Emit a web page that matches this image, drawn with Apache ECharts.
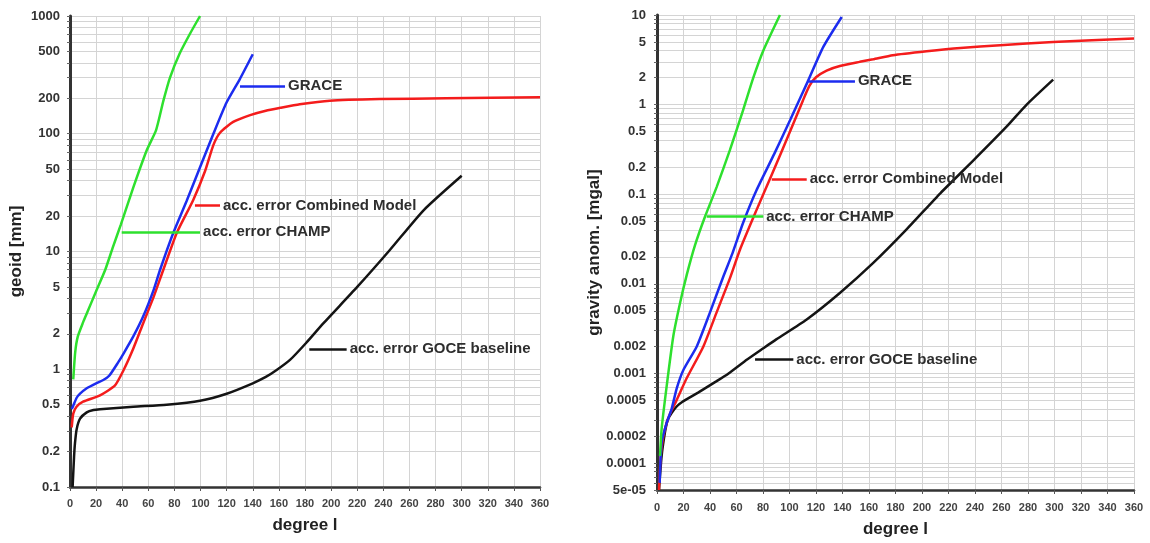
<!DOCTYPE html>
<html>
<head>
<meta charset="utf-8">
<script src="https://cdn.jsdelivr.net/npm/echarts@6/dist/echarts.min.js"></script>
<style>
  html, body { margin: 0; padding: 0; background: #fff; }
  #chart { width: 1150px; height: 543px; }
</style>
</head>
<body>
<div id="chart"></div>
<script>
// spherical harmonic degree l, x axis of both panels
const degreeTicks = [0, 20, 40, 60, 80, 100, 120, 140, 160, 180, 200, 220, 240, 260, 280, 300, 320, 340, 360];

// left panel: geoid error [mm]
const geoidTicks = [0.1, 0.2, 0.5, 1, 2, 5, 10, 20, 50, 100, 200, 500, 1000];
const geoidTickLabels = ["0.1", "0.2", "0.5", "1", "2", "5", "10", "20", "50", "100", "200", "500", "1000"];

const goceGeoid = [[2, 0.1], [3.1, 0.18], [3.8, 0.235], [5.1, 0.31], [7.7, 0.38], [12.8, 0.43], [18, 0.45], [23, 0.457],
  [48.5, 0.48], [74, 0.5], [99.6, 0.54], [120, 0.62], [140, 0.76], [150, 0.86], [158, 0.98], [168.5, 1.2],
  [181, 1.68], [194, 2.45], [220, 5.0], [245, 10.3], [271, 22.5], [300, 44]];
const combinedGeoid = [[1.3, 0.32], [2.5, 0.42], [5, 0.48], [10, 0.53], [23, 0.6], [34.5, 0.73], [41, 0.98],
  [48.5, 1.5], [56, 2.45], [64, 4.1], [71.5, 7], [81.7, 14.3], [94.4, 27.4], [103.4, 48], [109.8, 80],
  [114.9, 102], [125, 126], [138, 144], [150, 157], [161, 166], [176, 178], [199, 191], [237, 197],
  [288, 200], [360, 204]];
const graceGeoid = [[1.3, 0.46], [2.5, 0.49], [5, 0.57], [7.7, 0.62], [12.8, 0.69], [20, 0.76], [25.5, 0.81],
  [30, 0.88], [37, 1.15], [41, 1.36], [48.5, 1.9], [56, 2.8], [64, 4.7], [69, 7], [79, 14.3], [89.4, 27],
  [99.6, 52], [110, 101], [120, 185], [130, 290], [140, 473]];
const champGeoid = [[2.5, 0.82], [4, 1.4], [6, 1.9], [10, 2.5], [13, 3.0], [20, 4.6], [27, 7], [33, 11],
  [39, 17], [48.5, 35], [58.7, 72], [66, 108], [71.5, 190], [76.6, 300], [84, 480], [92, 710], [99.6, 1000]];

// right panel: gravity anomaly error [mgal]
const gravityTicks = [5e-5, 0.0001, 0.0002, 0.0005, 0.001, 0.002, 0.005, 0.01, 0.02, 0.05, 0.1, 0.2, 0.5, 1, 2, 5, 10];
const gravityTickLabels = ["5e-05", "0.0001", "0.0002", "0.0005", "0.001", "0.002", "0.005", "0.01", "0.02",
  "0.05", "0.1", "0.2", "0.5", "1", "2", "5", "10"];

const goceGravity = [[1.5, 5e-5], [3.5, 0.00012], [6, 0.00022], [8, 0.0003], [11, 0.00036], [15, 0.00043],
  [19, 0.00048], [31, 0.00061], [45, 0.00082], [54, 0.001], [68, 0.00143], [80, 0.0019], [90, 0.0024],
  [113, 0.004], [138, 0.0079], [163, 0.017], [188, 0.04], [214, 0.103], [239, 0.24], [264, 0.57],
  [279, 1.0], [299, 1.9]];
const combinedGravity = [[1.5, 5e-5], [2.8, 0.00012], [4.8, 0.0002], [7.3, 0.00028], [10, 0.00036],
  [15, 0.00051], [22, 0.00086], [35, 0.002], [45, 0.0048], [55, 0.0115], [62.6, 0.024], [75, 0.066],
  [86.6, 0.165], [100.4, 0.5], [110, 1.1], [115, 1.62], [120, 2.02], [128, 2.4], [138, 2.7], [153, 3.0],
  [163, 3.2], [178, 3.56], [203.5, 3.94], [229, 4.29], [259, 4.6], [299, 5.0], [360, 5.45]];
const graceGravity = [[2, 6e-5], [3.5, 0.00017], [7.3, 0.00028], [11, 0.0004], [15, 0.00069], [20, 0.0011],
  [30, 0.002], [40, 0.0048], [50, 0.012], [57, 0.022], [65, 0.048], [75, 0.11], [88.4, 0.28], [100.4, 0.67],
  [114, 1.84], [125.5, 4.4], [139.4, 9.5]];
const champGravity = [[2.3, 0.00012], [3.5, 0.00024], [7.3, 0.00072], [12.3, 0.0026], [17.4, 0.0061],
  [22.4, 0.0125], [28.7, 0.027], [36.2, 0.056], [45, 0.12], [55, 0.31], [65, 0.87], [72.7, 2.0],
  [80.2, 4.0], [92.8, 10]];

// callout lines: [degree from, degree to, value]
const geoidNotes = {
  goce: [183.3, 211.9, 1.49],
  combined: [95.7, 114.9, 24.5],
  grace: [130.2, 164.7, 254],
  champ: [39.6, 99.6, 14.7]
};
const gravityNotes = {
  goce: [74, 102.9, 0.00143],
  combined: [86.6, 113, 0.148],
  grace: [114.2, 149.4, 1.84],
  champ: [37.5, 80.2, 0.0563]
};

const FONT = "'Liberation Sans', Arial, sans-serif";
const COLORS = { goce: "#141414", combined: "#f41c1c", grace: "#1c2cef", champ: "#2ee02e" };
const TEXTS = {
  goce: "acc. error GOCE baseline",
  combined: "acc. error Combined Model",
  grace: "GRACE",
  champ: "acc. error CHAMP"
};

// minor grid: 1..9 per decade between lo and hi
function decadeGrid(lo, hi) {
  const out = [];
  for (let e = Math.floor(Math.log10(lo)); e <= Math.ceil(Math.log10(hi)); e++) {
    for (let k = 1; k <= 9; k++) {
      const v = Number((k * Math.pow(10, e)).toPrecision(6));
      if (v >= lo && v <= hi) out.push(v);
    }
  }
  return out;
}

function tickFormatter(ticks, labels) {
  return (v) => {
    let best = 0;
    for (let i = 1; i < ticks.length; i++) {
      if (Math.abs(Math.log10(v / ticks[i])) < Math.abs(Math.log10(v / ticks[best]))) best = i;
    }
    return labels[best];
  };
}

function xAxis(gridIndex, nameGap, labelMargin) {
  return {
    type: "value",
    gridIndex,
    min: degreeTicks[0],
    max: degreeTicks[degreeTicks.length - 1],
    interval: degreeTicks[1] - degreeTicks[0],
    name: "degree l",
    nameLocation: "middle",
    nameGap,
    nameTextStyle: { fontSize: 17, fontWeight: "bold", color: "#222", fontFamily: FONT },
    axisLine: { onZero: false, lineStyle: { color: "#333", width: 2.5 } },
    axisTick: { show: true, length: 4, lineStyle: { color: "#555" } },
    axisLabel: { fontSize: 11, fontWeight: "bold", color: "#444", margin: labelMargin, fontFamily: FONT },
    splitLine: { show: true, lineStyle: { color: "#d4d4d4", width: 1 } }
  };
}

function yAxis(gridIndex, name, ticks, labels, nameGap, labelMargin) {
  const lo = ticks[0], hi = ticks[ticks.length - 1];
  return {
    type: "log",
    logBase: 10,
    gridIndex,
    min: lo,
    max: hi,
    name,
    nameLocation: "middle",
    nameGap,
    nameTextStyle: { fontSize: 17, fontWeight: "bold", color: "#222", fontFamily: FONT },
    axisLine: { show: true, lineStyle: { color: "#333", width: 3 } },
    axisTick: { show: true, length: 3, customValues: decadeGrid(lo, hi), lineStyle: { color: "#666" } },
    axisLabel: {
      customValues: ticks,
      formatter: tickFormatter(ticks, labels),
      fontSize: 13, fontWeight: "bold", color: "#333", margin: labelMargin, fontFamily: FONT
    },
    splitLine: { show: true, lineStyle: { color: "#d4d4d4", width: 1 } },
    minorTick: { show: false },
    minorSplitLine: { show: false }
  };
}

function curve(key, data, axisIndex, note) {
  const color = COLORS[key];
  return {
    type: "line",
    name: TEXTS[key],
    data,
    xAxisIndex: axisIndex,
    yAxisIndex: axisIndex,
    symbol: "none",
    showSymbol: false,
    smooth: 0.2,
    silent: true,
    lineStyle: { color, width: 2.5 },
    itemStyle: { color },
    markLine: {
      symbol: "none",
      silent: true,
      animation: false,
      lineStyle: { color, width: 2.5, type: "solid" },
      label: {
        show: true, position: "end", distance: 3, formatter: TEXTS[key],
        color: "#2e2e2e", fontSize: 15, fontWeight: "bold", fontFamily: FONT
      },
      data: [[{ coord: [note[0], note[2]] }, { coord: [note[1], note[2]] }]]
    }
  };
}

const chart = echarts.init(document.getElementById("chart"), null, { renderer: "canvas" });

chart.setOption({
  animation: false,
  backgroundColor: "#fff",
  textStyle: { fontFamily: FONT },
  grid: [
    { left: 70, right: 610, top: 16, bottom: 56 },
    { left: 657, right: 16, top: 15, bottom: 52 }
  ],
  xAxis: [xAxis(0, 30, 11), xAxis(1, 31, 12)],
  yAxis: [
    yAxis(0, "geoid [mm]", geoidTicks, geoidTickLabels, 45, 10),
    yAxis(1, "gravity anom. [mgal]", gravityTicks, gravityTickLabels, 46, 11)
  ],
  series: [
    curve("goce", goceGeoid, 0, geoidNotes.goce),
    curve("combined", combinedGeoid, 0, geoidNotes.combined),
    curve("grace", graceGeoid, 0, geoidNotes.grace),
    curve("champ", champGeoid, 0, geoidNotes.champ),
    curve("goce", goceGravity, 1, gravityNotes.goce),
    curve("combined", combinedGravity, 1, gravityNotes.combined),
    curve("grace", graceGravity, 1, gravityNotes.grace),
    curve("champ", champGravity, 1, gravityNotes.champ)
  ]
});
</script>
</body>
</html>
